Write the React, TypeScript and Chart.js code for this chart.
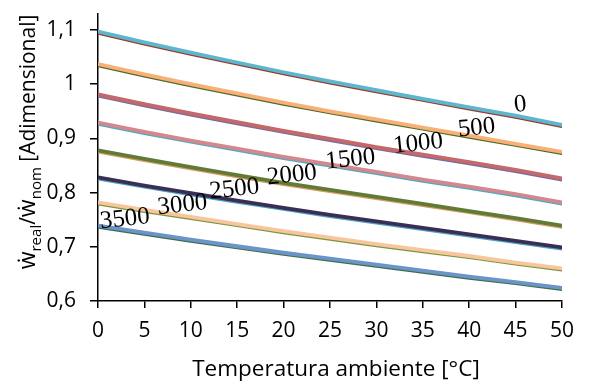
import React, { useEffect, useRef } from "react";
import { Chart, registerables } from "chart.js";

Chart.register(...registerables);

// Ambient temperature [°C]
const temperatures = [0, 5, 10, 15, 20, 25, 30, 35, 40, 45, 50];
// Altitude [m] for each curve
const altitudes = ["0", "500", "1000", "1500", "2000", "2500", "3000", "3500"];

const ratioAlt0 = [1.097, 1.077, 1.058, 1.04, 1.022, 1.005, 0.989, 0.973, 0.957, 0.942, 0.925];
const ratioAlt500 = [1.037, 1.018, 1.0, 0.983, 0.966, 0.95, 0.935, 0.92, 0.905, 0.89, 0.875];
const ratioAlt1000 = [0.981, 0.963, 0.946, 0.93, 0.914, 0.899, 0.884, 0.87, 0.856, 0.842, 0.826];
const ratioAlt1500 = [0.929, 0.912, 0.896, 0.881, 0.866, 0.852, 0.838, 0.824, 0.811, 0.797, 0.782];
const ratioAlt2000 = [0.878, 0.862, 0.847, 0.832, 0.818, 0.805, 0.792, 0.779, 0.766, 0.753, 0.739];
const ratioAlt2500 = [0.828, 0.813, 0.799, 0.785, 0.772, 0.759, 0.747, 0.735, 0.723, 0.711, 0.699];
const ratioAlt3000 = [0.782, 0.768, 0.755, 0.742, 0.729, 0.717, 0.705, 0.694, 0.683, 0.671, 0.66];
const ratioAlt3500 = [0.739, 0.726, 0.713, 0.701, 0.689, 0.678, 0.667, 0.656, 0.645, 0.635, 0.624];

const seriesValues = [
  ratioAlt0, ratioAlt500, ratioAlt1000, ratioAlt1500,
  ratioAlt2000, ratioAlt2500, ratioAlt3000, ratioAlt3500,
];

// Where each altitude label sits (temperature, ratio)
const labelTemps = [45.5, 40.8, 34.5, 27.2, 20.9, 14.7, 9.1, 2.9];
const labelRatios = [0.962, 0.919, 0.89, 0.861, 0.832, 0.806, 0.777, 0.751];

const yTickValues = [0.6, 0.7, 0.8, 0.9, 1.0, 1.1];
const xTickStep = 5;
const xTitle = "Temperatura ambiente [°C]";

const lineColors = ["#5BB6CE", "#F8B077", "#C4686A", "#D5888B", "#5F7B35", "#3B2E55", "#F9C59C", "#6B94C9"];
const edgeColors = ["#9A3C2C", "#4F6A2A", "#7A6A9E", "#4FA9C2", "#D79A5E", "#4BA2C0", "#7A9640", "#3F6E4A"];

const UI_FONT = "'Open Sans', sans-serif";
const SERIF_FONT = "'Liberation Serif', 'Times New Roman', Times, 'DejaVu Serif', serif";

const labelsPlugin = {
  id: "altitudeLabels",
  afterDatasetsDraw(chart: any) {
    const { ctx, scales } = chart;
    const xs = scales.x;
    const ys = scales.y;
    ctx.save();
    ctx.font = "25px " + SERIF_FONT;
    ctx.fillStyle = "#000";
    ctx.textAlign = "center";
    ctx.textBaseline = "middle";
    altitudes.forEach((txt, i) => {
      const px = xs.getPixelForValue(labelTemps[i]);
      const py = ys.getPixelForValue(labelRatios[i]);
      ctx.save();
      ctx.translate(px, py);
      ctx.rotate((-6 * Math.PI) / 180);
      ctx.fillText(txt, 0, 0);
      ctx.restore();
    });
    ctx.restore();
  },
};

const edgePlugin = {
  id: "lineEdge",
  beforeDatasetDraw(chart: any, args: any) {
    const ctx = chart.ctx;
    ctx.save();
    ctx.shadowColor = edgeColors[args.index];
    ctx.shadowOffsetX = 0;
    ctx.shadowOffsetY = 1.2;
    ctx.shadowBlur = 0;
  },
  afterDatasetDraw(chart: any) {
    chart.ctx.restore();
  },
};

const titlesPlugin = {
  id: "axisTitles",
  afterDraw(chart: any) {
    const { ctx, chartArea } = chart;
    // x-axis title
    ctx.save();
    ctx.font = "22.5px " + UI_FONT;
    ctx.fillStyle = "#000";
    ctx.textAlign = "center";
    ctx.textBaseline = "middle";
    ctx.fillText(xTitle, (chartArea.left + chartArea.right) / 2 + 6, chartArea.bottom + 69);
    ctx.restore();

    // y-axis title with subscripts
    const cx = 28;
    const cy = 142;
    const big = "23px " + UI_FONT;
    const sub = "15px " + UI_FONT;
    const norm = "21px " + UI_FONT;
    const parts: [string, string, number][] = [
      ["ẇ", big, 0],
      ["real", sub, 6],
      ["/", norm, 0],
      ["ẇ", big, 0],
      ["nom", sub, 6],
      [" [Adimensional]", norm, 0],
    ];
    ctx.save();
    ctx.translate(cx, cy);
    ctx.rotate(-Math.PI / 2);
    ctx.fillStyle = "#000";
    ctx.textBaseline = "alphabetic";
    ctx.textAlign = "left";
    let total = 0;
    parts.forEach(([t, f]) => {
      ctx.font = f;
      total += ctx.measureText(t).width;
    });
    let x = -total / 2;
    const base = 7;
    parts.forEach(([t, f, dy]) => {
      ctx.font = f;
      ctx.fillText(t, x, base + dy);
      x += ctx.measureText(t).width;
    });
    ctx.restore();
  },
};

function fmt(v: number) {
  const r = Math.round(v * 10) / 10;
  return String(r).replace(".", ",");
}

export default function App() {
  const ref = useRef<HTMLCanvasElement | null>(null);

  useEffect(() => {
    if (!ref.current) return;
    const datasets = altitudes.map((alt, i) => ({
      label: alt,
      data: temperatures.map((t, j) => ({ x: t, y: seriesValues[i][j] })),
      borderColor: lineColors[i],
      backgroundColor: lineColors[i],
      borderWidth: 3.8,
      pointRadius: 0,
      tension: 0,
      fill: false,
      borderCapStyle: "round" as const,
    }));

    const chart = new Chart(ref.current, {
      type: "line",
      data: { datasets },
      options: {
        responsive: false,
        animation: false,
        layout: { padding: { left: 0, right: 36, top: 13.7, bottom: 0 } },
        plugins: {
          legend: { display: false },
          tooltip: { enabled: false },
        },
        scales: {
          x: {
            type: "linear",
            min: 0,
            max: 50,
            offset: false,
            border: { color: "#000", width: 1.5 },
            grid: {
              display: true,
              drawOnChartArea: false,
              drawTicks: true,
              tickLength: 7,
              color: "#000",
              lineWidth: 1.5,
            },
            ticks: {
              stepSize: xTickStep,
              color: "#000",
              padding: 10,
              maxRotation: 0,
              font: { family: UI_FONT, size: 21 },
            },
            title: { display: false },
            afterFit(scale: any) {
              scale.height = 80;
              scale.paddingLeft = 0;
              scale.paddingRight = 0;
            },
          },
          y: {
            type: "linear",
            min: 0.6,
            max: 1.13,
            border: { color: "#000", width: 1.5 },
            grid: {
              display: true,
              drawOnChartArea: false,
              drawTicks: true,
              tickLength: 8,
              color: "#000",
              lineWidth: 1.5,
            },
            afterBuildTicks(scale: any) {
              scale.ticks = yTickValues.map((v) => ({ value: v }));
            },
            ticks: {
              color: "#000",
              padding: 14,
              font: { family: UI_FONT, size: 21 },
              callback: (v: any) => fmt(Number(v)),
            },
            afterFit(scale: any) {
              scale.width = 98;
              scale.paddingTop = 0;
              scale.paddingBottom = 0;
            },
          },
        },
      },
      plugins: [edgePlugin, labelsPlugin, titlesPlugin],
    });
    return () => chart.destroy();
  }, []);

  return (
    <div style={{ position: "absolute", left: 0, top: 0, width: 598, height: 381, background: "#fff" }}>
      <canvas ref={ref} width={598} height={381} style={{ width: 598, height: 381, display: "block" }} />
    </div>
  );
}
